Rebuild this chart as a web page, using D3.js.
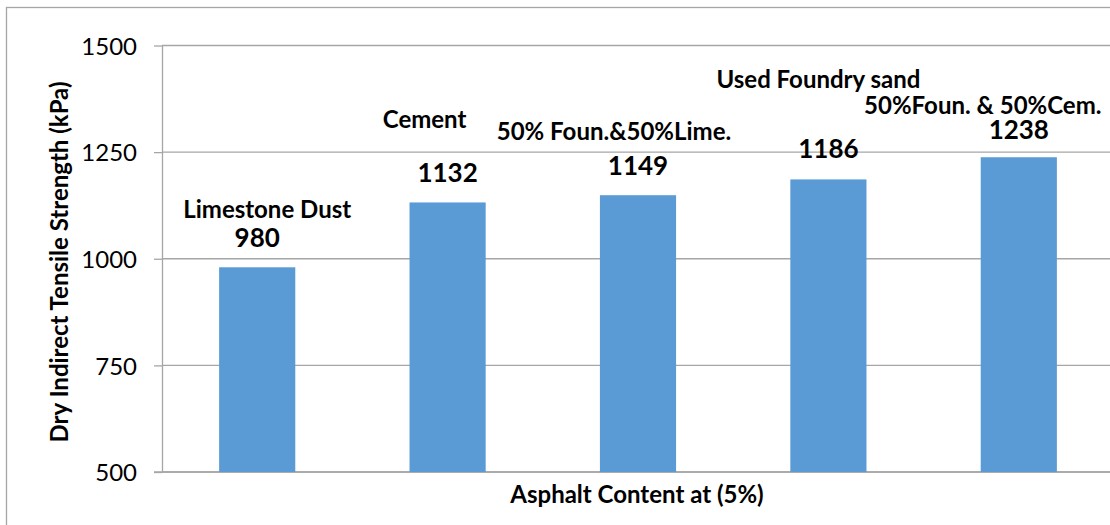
<!DOCTYPE html>
<html lang="en">
	<head>
		<meta charset="UTF-8">
		<title>Dry Indirect Tensile Strength</title>
		<style>
			body{margin:0;background:#fff;}
			.bar{fill:#5b9bd5;}
			.grid line{stroke:#a6a6a6;stroke-width:1.3;}
			.axis path,.axis line{stroke:#a6a6a6;stroke-width:1.3;}
			.axis text{font-family:Lato,"Open Sans",sans-serif;font-size:24px;fill:#000;}
			.lbl{font-family:Lato,"Open Sans",sans-serif;font-weight:bold;fill:#000;}
		</style>
	</head>
	<body>
		<svg width="1110" height="525"></svg>
		<script src="https://cdn.jsdelivr.net/npm/d3@7"></script>
		<script>
			// data
			var categories = ["Limestone Dust","Cement","50% Foun.&50%Lime.","Used Foundry sand","50%Foun. & 50%Cem."];
			var values = [980,1132,1149,1186,1238];
			var yTicks = [500,750,1000,1250,1500];
			var xTitle = "Asphalt Content at (5%)";
			var yTitle = "Dry Indirect Tensile Strength (kPa)";

			// labels were dragged around by hand in the original, so keep their offsets (px) apart
			var nameDx = [10,-23,-24,-10,-36];
			var nameY = [218,128,140,88,114];
			var valueY = [247,182,175,158,139];

			var svg = d3.select("svg"),
				margin = {top:45.5,right:-4,bottom:53,left:162},
				width = svg.attr("width") - margin.left - margin.right,
				height = svg.attr("height") - margin.top - margin.bottom;

			// outer chart frame
			svg.append("rect")
				.attr("x",6.5).attr("y",7.5)
				.attr("width",1120).attr("height",530)
				.attr("fill","none").attr("stroke","#a6a6a6").attr("stroke-width",1.3);

			var x = d3.scaleBand().domain(categories).range([0,width]).paddingInner(0.6).paddingOuter(0.3);
			var y = d3.scaleLinear().domain([500,1500]).range([height,0]);

			var g = svg.append("g")
				.attr("transform","translate("+margin.left+","+margin.top+")");

			g.append("g")
				.attr("class","grid")
				.selectAll("line")
				.data(yTicks)
				.enter().append("line")
				.attr("x1",0).attr("x2",width)
				.attr("y1",function(d){return y(d);})
				.attr("y2",function(d){return y(d);});

			var ya = g.append("g")
				.attr("class","axis y")
				.call(d3.axisLeft(y).tickValues(yTicks).tickFormat(d3.format("d")).tickSize(8).tickPadding(17).tickSizeOuter(0));
			ya.selectAll("text").attr("dy","0.36em");

			g.append("line")
				.attr("x1",-8).attr("x2",width)
				.attr("y1",height).attr("y2",height)
				.attr("stroke","#a6a6a6").attr("stroke-width",1.3);

			g.selectAll(".bar")
				.data(values)
				.enter().append("rect")
				.attr("class","bar")
				.attr("x",function(d,i){return x(categories[i]);})
				.attr("y",function(d){return y(d);})
				.attr("width",x.bandwidth())
				.attr("height",function(d){return height - y(d);});

			// category names above bars
			svg.selectAll(".name")
				.data(categories)
				.enter().append("text")
				.attr("class","lbl name")
				.attr("x",function(d,i){return margin.left + x(d) + x.bandwidth()/2 + nameDx[i];})
				.attr("y",function(d,i){return nameY[i];})
				.attr("text-anchor","middle")
				.style("font-size","24px")
				.text(function(d){return d;});

			// value labels
			svg.selectAll(".val")
				.data(values)
				.enter().append("text")
				.attr("class","lbl val")
				.attr("x",function(d,i){return margin.left + x(categories[i]) + x.bandwidth()/2;})
				.attr("y",function(d,i){return valueY[i];})
				.attr("text-anchor","middle")
				.style("font-size","26px")
				.text(function(d){return d;});

			svg.append("text")
				.attr("class","lbl")
				.attr("x",637).attr("y",503)
				.attr("text-anchor","middle")
				.style("font-size","24px")
				.text(xTitle);

			svg.append("text")
				.attr("class","lbl")
				.attr("transform","translate(68,262) rotate(-90)")
				.attr("text-anchor","middle")
				.style("font-size","24px")
				.text(yTitle);
		</script>
	</body>
</html>
